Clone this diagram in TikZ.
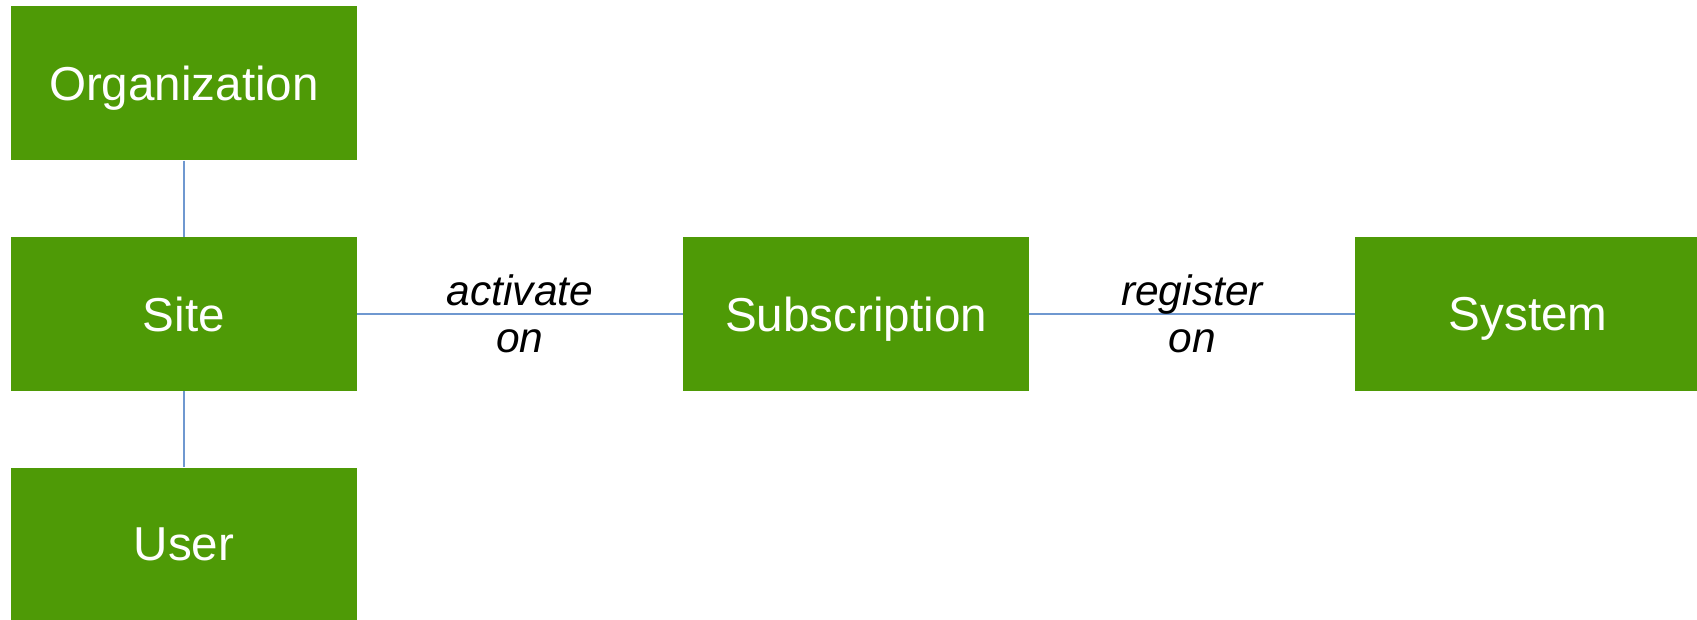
\documentclass[tikz,border=0pt]{standalone}
\usepackage{fontspec}
\setmainfont{Liberation Sans}
\definecolor{boxgreen}{HTML}{4E9A06}
\definecolor{linkblue}{HTML}{6F98D0}
\begin{document}
\begin{tikzpicture}[x=1pt,y=-1pt,
  entity/.style={fill=boxgreen,draw=none,minimum width=346pt,minimum height=154pt,inner sep=0pt,
    text depth=0pt,text=white,font=\fontsize{47.6}{54}\selectfont},
  link/.style={draw=linkblue,line width=1.3pt},
  rel/.style={align=center,font=\fontsize{42.5}{47}\selectfont\itshape,inner sep=0pt}]
\useasboundingbox (0,0) rectangle (1697,620);
\node[entity] (org) at (184,83.5) {Organization};
\node[entity] (site) at (184,314) {Site};
\node[entity] (user) at (184,544.5) {User};
\node[entity] (sub) at (856,314) {Subscription};
\node[entity] (sys) at (1528,314) {System};
\draw[link] (org.south) -- (site.north);
\draw[link] (site.south) -- (user.north);
\draw[link] (site.east) -- (sub.west) node[rel,midway] {activate\\on};
\draw[link] (sub.east) -- (sys.west) node[rel,midway] {register\\on};
\end{tikzpicture}
\end{document}
